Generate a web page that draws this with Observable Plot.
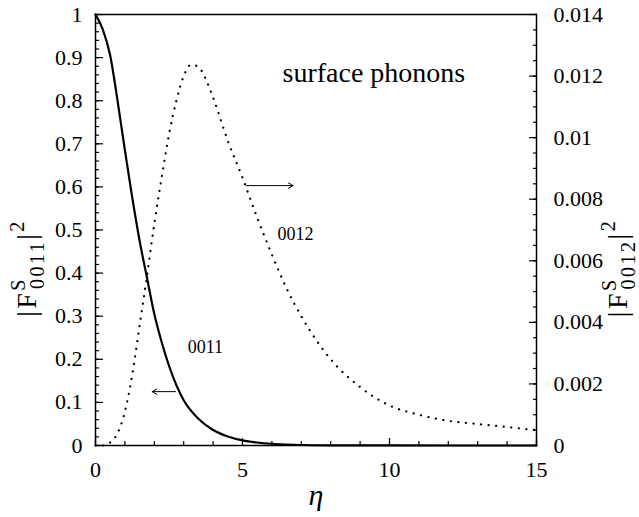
<!DOCTYPE html>
<html><head><meta charset="utf-8">
<script src="https://cdn.jsdelivr.net/npm/d3@7"></script>
<script src="https://cdn.jsdelivr.net/npm/@observablehq/plot@0.6"></script>
<style>body{margin:0;background:#fff}#chart{width:639px;height:517px}</style>
</head><body><div id="chart"></div>
<script>
// curve 0011 (left axis)
const eta0011 = [0,0.25,0.5,0.75,1,1.25,1.5,1.75,2,2.25,2.5,2.75,3,3.5,4,4.5,5,5.5,6,6.5,7,8,9,10,12,15];
const f0011   = [1,0.965,0.905,0.80,0.685,0.575,0.475,0.39,0.305,0.24,0.185,0.14,0.105,0.062,0.036,0.021,0.012,0.007,0.004,0.0022,0.0012,0.0004,0.0002,0.0001,0,0];
// curve 0012 (right axis)
const eta0012 = [0,0.25,0.5,0.75,1,1.25,1.5,1.75,2,2.25,2.5,2.75,3,3.25,3.5,3.75,4,4.5,5,5.5,6,6.5,7,8,9,10,11,12,13,14,15];
const f0012   = [0,0,0.0001,0.0004,0.0011,0.0023,0.0039,0.0055,0.0072,0.0087,0.0101,0.0112,0.012,0.01237,0.0123,0.0119,0.0113,0.0099,0.0087,0.0074,0.0062,0.0051,0.0042,0.0028,0.0019,0.0013,0.001,0.0008,0.0007,0.0006,0.0005];

const xTicks = [0,5,10,15];
const xMinorTicks = [0,1,2,3,4,5,6,7,8,9,10,11,12,13,14,15];
const yLeftTicks = [0,0.1,0.2,0.3,0.4,0.5,0.6,0.7,0.8,0.9,1];
const yRightTicks = [0,0.002,0.004,0.006,0.008,0.01,0.012,0.014];
const rightMax = 0.014;

const curveLabels = ["0011","0012"];
const curveLabelX = [3.74, 6.8];
const curveLabelY = [0.228, 0.49];
const arrowX1 = [2.72, 5.13];
const arrowX2 = [1.93, 6.72];
const arrowY  = [0.125, 0.603];
const titleText = "surface phonons";

const font = "'Liberation Serif','Times New Roman',serif";
const solid = eta0011.map((x,i)=>({x, y:f0011[i]}));
const dotted = eta0012.map((x,i)=>({x, y:f0012[i]/rightMax}));
const labelsData = curveLabels.map((t,i)=>({t, x:curveLabelX[i], y:curveLabelY[i]}));
const arrows = arrowX1.map((x1,i)=>({x1, x2:arrowX2[i], y:arrowY[i]}));
const yMinor = d3.range(0,51).map(i=>i*0.02);
const yRightMinor = d3.range(0,29).map(i=>i*0.0005/rightMax);
const yRightMajor = yRightTicks.map(v=>v/rightMax);
const none = () => "";

const chart = Plot.plot({
  width:639, height:517,
  marginLeft:95, marginRight:103, marginTop:14, marginBottom:72,
  style:{fontFamily:font, fontSize:"22px", background:"white", color:"black"},
  x:{domain:[0,15]},
  y:{domain:[0,1]},
  marks:[
    // inward tick marks
    Plot.axisX(xMinorTicks, {anchor:"bottom", tickSize:4, dy:-4, tickFormat:none, label:null, strokeWidth:1.2}),
    Plot.axisX(xTicks, {anchor:"bottom", tickSize:7, dy:-7, tickFormat:none, label:null, strokeWidth:1.2}),
    Plot.axisY(yMinor, {anchor:"left", tickSize:4, dx:4, tickFormat:none, label:null, strokeWidth:1.2}),
    Plot.axisY(yLeftTicks, {anchor:"left", tickSize:8, dx:8, tickFormat:none, label:null, strokeWidth:1.2}),
    Plot.axisY(yRightMinor, {anchor:"right", tickSize:4, dx:-4, tickFormat:none, label:null, strokeWidth:1.2}),
    Plot.axisY(yRightMajor, {anchor:"right", tickSize:8, dx:-8, tickFormat:none, label:null, strokeWidth:1.2}),
    // tick labels
    Plot.axisX(xTicks, {anchor:"bottom", tickSize:0, tickPadding:16, tickFormat:d=>String(d), label:null}),
    Plot.axisY(yLeftTicks, {anchor:"left", tickSize:0, tickPadding:13, tickFormat:d=>String(+d.toFixed(1)), label:null}),
    Plot.axisY(yRightMajor, {anchor:"right", tickSize:0, tickPadding:17, tickFormat:d=>String(+(d*rightMax).toFixed(3)), label:null}),
    Plot.frame({stroke:"black", strokeWidth:1.5}),
    Plot.line(solid, {x:"x", y:"y", stroke:"black", strokeWidth:2.2, curve:"monotone-x"}),
    Plot.line(dotted, {x:"x", y:"y", stroke:"black", strokeWidth:2.2, strokeDasharray:"0.1,7.5", strokeLinecap:"round", curve:"monotone-x"}),
    Plot.arrow(arrows, {x1:"x1", x2:"x2", y1:"y", y2:"y", stroke:"black", strokeWidth:1, headLength:8, bend:0}),
    Plot.text(labelsData, {x:"x", y:"y", text:"t", fontSize:18, fill:"black"}),
    Plot.text([titleText], {x:6.36, y:0.865, text:d=>d, textAnchor:"start", fontSize:28, fill:"black"})
  ]
});
document.getElementById("chart").appendChild(chart);

const svg = d3.select(chart);
function axisTitle(x, sub) {
  const t = svg.append("text").attr("transform",`translate(${x},268) rotate(-90)`)
    .attr("text-anchor","middle").attr("font-family",font).attr("font-size",28)
    .attr("letter-spacing","2.5px").attr("fill","black");
  t.append("tspan").text("|F");
  t.append("tspan").attr("font-size",20).attr("dy",-11).text("S");
  t.append("tspan").attr("font-size",20).attr("dx",-12).attr("dy",19).text(sub);
  t.append("tspan").attr("dy",-8).text("|");
  t.append("tspan").attr("font-size",20).attr("dy",-12).text("2");
}
axisTitle(36, "0011");
axisTitle(627, "0012");
svg.append("text").attr("x",316).attr("y",505).attr("text-anchor","middle")
  .attr("font-family",font).attr("font-style","italic").attr("font-size",30).attr("fill","black").text("η");
</script>
</body></html>
